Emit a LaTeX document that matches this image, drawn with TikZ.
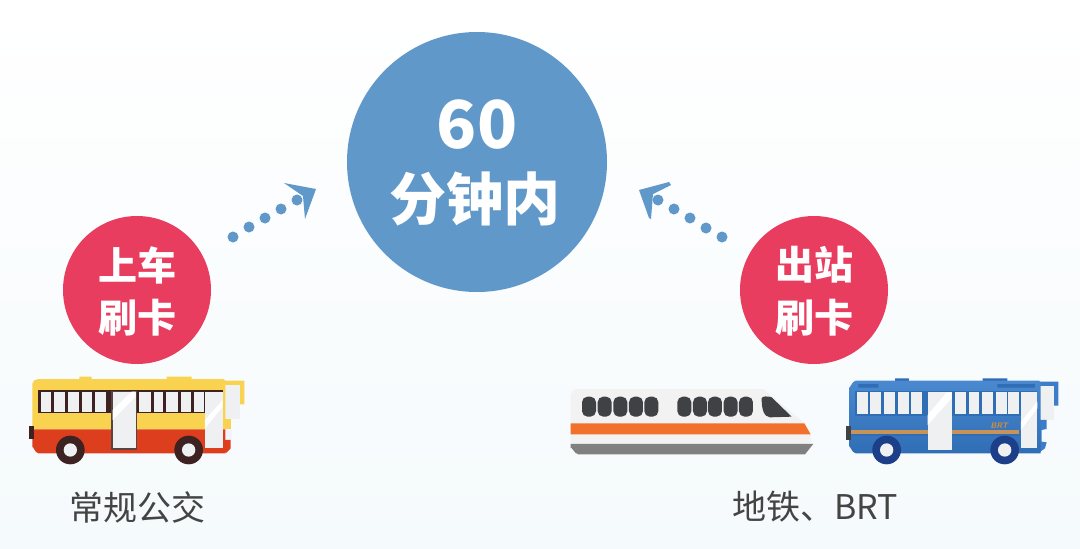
\documentclass[tikz,border=0pt]{standalone}
\usepackage{fontspec}
\newfontfamily\cjk{Noto Sans CJK SC}
\definecolor{bluec}{HTML}{6098C9}
\definecolor{redc}{HTML}{E83D5F}
\definecolor{labelc}{HTML}{444444}
\definecolor{bgbot}{HTML}{F5FAFC}
\definecolor{byellow}{HTML}{F9D24F}
\definecolor{bred}{HTML}{DD3F1E}
\definecolor{bdark}{HTML}{3E2222}
\definecolor{wglass}{HTML}{EEF0F2}
\definecolor{tbody}{HTML}{F2F2F2}
\definecolor{torange}{HTML}{F0702C}
\definecolor{tgray}{HTML}{808080}
\definecolor{twin}{HTML}{404145}
\definecolor{brtb}{HTML}{3D7CC9}
\definecolor{brtt}{HTML}{4A88D0}
\definecolor{brtd}{HTML}{2F6DB5}
\definecolor{brtw}{HTML}{1D3F8A}
\definecolor{brto}{HTML}{C8935A}
\tikzset{
 x=1pt,y=-1pt,
 bigtext/.style={font=\cjk\bfseries\fontsize{57}{60}\selectfont,text=white,inner sep=0pt},
 smalltext/.style={font=\cjk\bfseries\fontsize{39}{42}\selectfont,text=white,inner sep=0pt},
 labeltext/.style={font=\cjk\fontsize{34}{38}\selectfont,text=labelc,inner sep=0pt},
 zoomed/.style={shift={#1},x=0.3333pt,y=-0.3333pt},
}
\newcommand{\zdots}[5]{\foreach \p in {#1,#2,#3,#4,#5} \fill[bluec] \p circle (5.5);}
\begin{document}
\begin{tikzpicture}
\useasboundingbox (0,0) rectangle (1080,549);
\shade[top color=white,bottom color=bgbot] (0,0) rectangle (1080,549);

% circles
\node[circle,fill=bluec,minimum size=260pt,inner sep=0pt] (main) at (477,162) {};
\node[circle,fill=redc,minimum size=148pt,inner sep=0pt] (lcirc) at (137,290) {};
\node[circle,fill=redc,minimum size=148pt,inner sep=0pt] (rcirc) at (814,290) {};
\node[font=\cjk\bfseries\fontsize{66}{70}\selectfont,text=white,inner sep=0pt] (sixty) at (477,125) {60};
\node[bigtext] (fen) at (475,199) {分钟内};
\node[smalltext] (l1) at (137,265) {上车};
\node[smalltext] (l2) at (137,318) {刷卡};
\node[smalltext] (r1) at (814,265) {出站};
\node[smalltext] (r2) at (814,318) {刷卡};
\node[labeltext] (lab1) at (137,507) {常规公交};
\node[labeltext] (lab2) at (815,507) {地铁、BRT};

% dotted arrows
\zdots{(233,237)}{(249,227)}{(265,218)}{(281,209)}{(297,200)}
\fill[bluec,line join=round] (284,183) -- (316,189) -- (305,219) -- (303,196) -- cycle;
\zdots{(722,237)}{(706,228)}{(690,218)}{(674,209)}{(658,200)}
\fill[bluec] (639,190) -- (669,182) -- (671,185) -- (653,194) -- (651,219) -- (649,218) -- cycle;

% left bus
\begin{scope}[zoomed={(0,360)}]
 \fill[byellow] (238,50) rectangle (275,60) (500,50) rectangle (575,60);
 \fill[byellow] (670,62) -- (733,62) -- (733,133) -- (720,133) -- (720,75) -- (670,75) -- cycle;
 \fill[wglass] (676,75) rectangle (720,178);
 \fill[byellow] (670,178) rectangle (692,208);
 \fill[wglass!80!blue!20] (678,208) rectangle (696,240);
 \fill[bred] (670,240) -- (692,240) -- (692,265) -- (680,278) -- (670,278) -- cycle;
 \fill[byellow] (115,57) -- (670,57) -- (676,62) -- (676,208) -- (97,208) -- (97,72) to[out=90,in=180] (115,57) -- cycle;
 \fill[bred] (97,208) -- (676,208) -- (676,280) -- (115,280) to[out=180,in=90] (97,262) -- cycle;
 \fill[bdark] (115,90) rectangle (668,160);
 \foreach \a/\b in {122/152,162/195,203/238,247/277,285/318,418/452,461/490,499/533,542/573,581/612}
   \fill[wglass] (\a,95) rectangle (\b,157);
 \fill[bdark!85] (334,93) rectangle (411,270);
 \fill[wglass] (338,95) rectangle (407,265);
 \fill[white] (338,150) -- (395,95) -- (407,95) -- (407,110) -- (338,180) -- cycle;
 \fill[wglass] (615,95) rectangle (668,263);
 \fill[white] (615,180) -- (668,120) -- (668,140) -- (615,205) -- cycle;
 \fill[bdark] (86,197) rectangle (102,238);
 \foreach \c in {211,566} {
   \fill[bdark] (\c,270) circle (43);
   \fill[wglass] (\c,270) circle (20);
 }
\end{scope}

% train
\begin{scope}[zoomed={(560,370)}]
 \fill[tbody] (32,72) to[out=-90,in=180] (47,57) -- (610,57) -- (735,160) -- (752,193) -- (752,222) -- (32,222) -- cycle;
 \fill[torange] (32,160) -- (733,160) -- (752,193) -- (32,193) -- cycle;
 \fill[tgray] (32,222) -- (760,222) -- (735,253) -- (55,253) to[out=180,in=90] (32,235) -- cycle;
 \foreach \c in {87,134,181,228,274,373,420,465,512,558}
   \fill[twin,rounded corners=5.5pt] (\c-21,80) rectangle (\c+21,140);
 \fill[twin,line join=round] (695,140) -- (630,142) .. controls (612,140) and (605,120) .. (605,85) .. controls (605,78) and (625,78) .. (635,82) -- cycle;
\end{scope}

% BRT bus
\begin{scope}[zoomed={(835,365)}]
 \fill[brtd] (180,40) rectangle (222,50) (443,40) rectangle (517,50);
 \fill[brtb] (612,50) -- (670,50) -- (670,122) -- (657,122) -- (657,63) -- (612,63) -- cycle;
 \fill[wglass] (612,63) rectangle (657,165);
 \fill[brtb] (605,165) -- (635,165) -- (635,192) -- (620,195) -- (620,230) -- (635,232) -- (630,250) -- (612,263) -- (605,263) -- cycle;
 \shade[top color=brtt,bottom color=brtd] (62,47) -- (612,47) -- (617,52) -- (617,265) -- (62,265) to[out=180,in=90] (42,245) -- (42,67) to[out=-90,in=180] cycle;
 \fill[brtd] (70,57) rectangle (130,68) (487,57) rectangle (600,68);
 \fill[brtd] (60,78) rectangle (607,152);
 \foreach \a/\b in {65/98,106/138,147/181,190/221,227/260,360/393,402/433,441/475,483/515,520/553}
   \fill[wglass] (\a,82) rectangle (\b,147);
 \fill[brto] (48,195) rectangle (552,207);
 \fill[brtd] (48,207) rectangle (552,212);
 \fill[wglass] (278,82) rectangle (350,255);
 \fill[white] (278,150) -- (335,82) -- (350,82) -- (350,100) -- (278,180) -- cycle;
 \fill[wglass] (558,80) rectangle (607,250);
 \fill[white] (558,170) -- (607,110) -- (607,130) -- (558,195) -- cycle;
 \fill[twin] (32,183) rectangle (47,225);
 \node[font=\sffamily\bfseries\itshape\fontsize{8}{8}\selectfont,text=brto!60!orange,inner sep=0pt] (brtlabel) at (493,183) {BRT};
 \foreach \c in {155,509} {
   \fill[brtw] (\c,255) circle (43);
   \fill[wglass] (\c,255) circle (20);
 }
\end{scope}
\end{tikzpicture}
\end{document}
